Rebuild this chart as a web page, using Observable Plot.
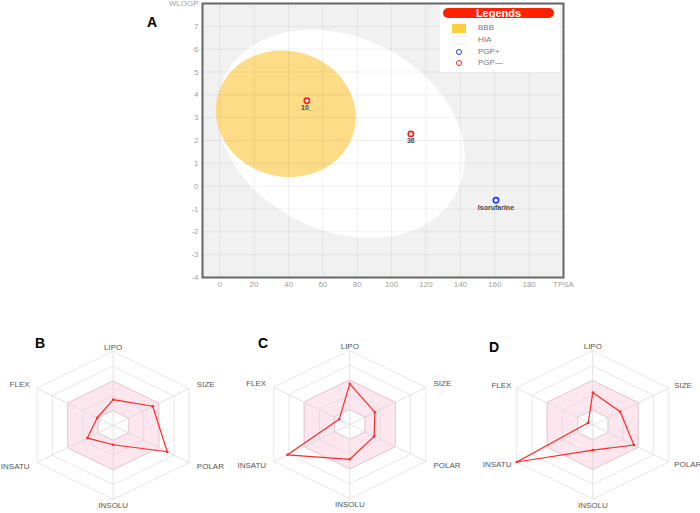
<!DOCTYPE html>
<html><head><meta charset="utf-8">
<script src="https://cdn.jsdelivr.net/npm/d3@7"></script>
<script src="https://cdn.jsdelivr.net/npm/@observablehq/plot@0.6"></script>
<style>
body{margin:0;background:#fff;font-family:"Liberation Sans",Arial,sans-serif;}
#wrap{position:relative;width:700px;height:513px;overflow:hidden;background:#fff;}
.abs{position:absolute;}
.abs svg{overflow:visible;max-width:none !important;}
.letter{position:absolute;font-weight:bold;color:#000;font-size:14px;line-height:14px;}
#legend{position:absolute;left:440px;top:5px;width:120px;height:67px;background:#fff;}
#legend .hd{position:absolute;left:3px;top:3px;width:111px;height:10px;background:#ff2200;border-radius:5px;color:#fff;font-weight:bold;font-size:11px;line-height:10px;text-align:center;}
#legend .lab{position:absolute;left:38px;font-size:8px;color:#777;line-height:8px;}
#legend .sw{position:absolute;left:12px;width:14px;height:9px;}
#legend .ci{position:absolute;left:16px;width:4px;height:4px;border-radius:50%;border:1.6px solid;background:#fff;}
</style></head><body><div id="wrap"></div>
<script>
// ---------- Data: BOILED-Egg (panel A) ----------
const compounds = ["10_", "36", "Isorufarine"];
const tpsa = [50.7, 111.2, 160.7];
const wlogp = [3.74, 2.29, -0.62];
const pgpClass = ["PGP—", "PGP—", "PGP+"];

const eggRegions = ["HIA", "BBB"];
const eggCenterTPSA = [70.5, 38.4];
const eggCenterWLOGP = [2.29, 3.17];
const eggAxisA = [[67.8, -2.50], [39.8, -0.74]];   // semi-axis vectors (TPSA, WLOGP)
const eggAxisB = [[-24.5, -3.81], [-8.73, -2.67]];

const xTicks = [0, 20, 40, 60, 80, 100, 120, 140, 160, 180, 200];
const yTicks = [-4, -3, -2, -1, 0, 1, 2, 3, 4, 5, 6, 7, 8];
const xAxisName = "TPSA";
const yAxisName = "WLOGP";

// ---------- Data: bioavailability radars (panels B, C, D) ----------
const radarAxes = ["LIPO", "SIZE", "POLAR", "INSOLU", "INSATU", "FLEX"];
const radarPanels = ["B", "C", "D"];
const radarB = [0.35, 0.52, 0.71, 0.26, 0.34, 0.21];
const radarC = [0.55, 0.33, 0.32, 0.47, 0.82, 0.14];
const radarD = [0.44, 0.36, 0.54, 0.34, 1.00, 0.06];
const ringLevels = [0.2, 0.4, 0.6, 0.8, 1.0];
const optimalRange = [0.2, 0.6];

// ---------- Panel A ----------
const wrap = document.getElementById("wrap");
const pgpColor = {"PGP+": "#1f3cff", "PGP—": "#ff2020"};
const points = compounds.map((c, i) => ({name: c, tpsa: tpsa[i], wlogp: wlogp[i], pgp: pgpClass[i]}));

const eggPolys = eggRegions.map((r, k) => d3.range(0, 361, 3).map(deg => {
  const t = deg * Math.PI / 180;
  return {
    region: r,
    tpsa: eggCenterTPSA[k] + eggAxisA[k][0] * Math.cos(t) + eggAxisB[k][0] * Math.sin(t),
    wlogp: eggCenterWLOGP[k] + eggAxisA[k][1] * Math.cos(t) + eggAxisB[k][1] * Math.sin(t)
  };
}));

const gridX = xTicks.filter(d => d !== 200);
const gridY = yTicks.filter(d => d !== 8);

const plotA = Plot.plot({
  width: 700, height: 295,
  marginLeft: 202, marginRight: 137, marginTop: 3, marginBottom: 18,
  style: {fontFamily: "'Liberation Sans', Arial, sans-serif", background: "transparent"},
  x: {domain: [-10, 200], axis: null},
  y: {domain: [-4, 8], axis: null},
  marks: [
    Plot.frame({fill: "#f1f1f1", stroke: null}),
    Plot.line(eggPolys[0], {x: "tpsa", y: "wlogp", fill: "#ffffff", stroke: "none", curve: "linear-closed"}),
    Plot.line(eggPolys[1], {x: "tpsa", y: "wlogp", fill: "#fddc87", stroke: "none", curve: "linear-closed"}),
    Plot.ruleX(gridX, {stroke: "#000", strokeOpacity: 0.06}),
    Plot.ruleY(gridY, {stroke: "#000", strokeOpacity: 0.06}),
    Plot.frame({stroke: "#666", strokeWidth: 2}),
    Plot.axisX({ticks: xTicks, tickSize: 0, tickPadding: 4, fontSize: 8, fill: "#a0a0a0", label: null,
      tickFormat: d => d === 200 ? xAxisName : String(d)}),
    Plot.axisY({ticks: yTicks, tickSize: 0, tickPadding: 4, fontSize: 8, fill: "#a0a0a0", label: null,
      tickFormat: d => d === 8 ? yAxisName : String(d)}),
    Plot.dot(points, {x: "tpsa", y: "wlogp", r: 2.6, fill: "#fff", stroke: d => pgpColor[d.pgp], strokeWidth: 1.7}),
    Plot.text(points, {x: "tpsa", y: "wlogp", text: "name", dy: 7, fontSize: 7, fontWeight: "bold", fill: "#444"})
  ]
});
const boxA = document.createElement("div");
boxA.className = "abs"; boxA.style.left = "0px"; boxA.style.top = "0px"; boxA.style.width = "700px";
boxA.appendChild(plotA);
wrap.appendChild(boxA);

// legend
const leg = document.createElement("div");
leg.id = "legend";
leg.innerHTML = `<div class="hd">Legends</div>
<div class="sw" style="top:19px;background:#fdd040;"></div><div class="lab" style="top:19px;">BBB</div>
<div class="sw" style="top:31px;background:#fff;border:1px solid #f2f2f2;box-sizing:border-box;"></div><div class="lab" style="top:31px;">HIA</div>
<div class="ci" style="top:44px;border-color:${pgpColor["PGP+"]};"></div><div class="lab" style="top:43px;">PGP+</div>
<div class="ci" style="top:55px;border-color:${pgpColor["PGP—"]};"></div><div class="lab" style="top:54px;">PGP—</div>`;
wrap.appendChild(leg);

const letterA = document.createElement("div");
letterA.className = "letter"; letterA.textContent = "A";
letterA.style.left = "147px"; letterA.style.top = "15px";
wrap.appendChild(letterA);

// ---------- Panels B, C, D ----------
const angleOf = i => (90 - 60 * i) * Math.PI / 180;
const hexagon = (r, key) => radarAxes.map((a, i) => ({key, x: r * Math.cos(angleOf(i)), y: r * Math.sin(angleOf(i))}));

function radar(values, left, cx, cy, labelR) {
  const series = values.map((v, i) => ({axis: radarAxes[i], x: v * Math.cos(angleOf(i)), y: v * Math.sin(angleOf(i))}));
  const spokes = radarAxes.map((a, i) => ({x: Math.cos(angleOf(i)), y: Math.sin(angleOf(i))}));
  const labels = radarAxes.map((a, i) => {
    const c = Math.cos(angleOf(i)), s = Math.sin(angleOf(i));
    const side = Math.abs(c) > 0.1;
    const r = side ? labelR : 1.0;
    return {axis: a, x: r * c, y: r * s, side: side ? (c > 0 ? "right" : "left") : (s > 0 ? "top" : "bottom")};
  });
  const rings = ringLevels.flatMap(l => hexagon(l, l));
  const font = "'Liberation Sans', Arial, sans-serif";
  const p = Plot.plot({
    width: 240, height: 193, margin: 0,
    style: {fontFamily: font, background: "transparent", overflow: "visible", maxWidth: "none"},
    x: {domain: [-1, 1], range: [cx - 87.8, cx + 87.8], axis: null},
    y: {domain: [-1, 1], range: [cy + 74, cy - 74], axis: null},
    marks: [
      Plot.line(hexagon(optimalRange[1], "o"), {x: "x", y: "y", fill: "#fde6ee", stroke: "#f2bfcf", strokeWidth: 1, curve: "linear-closed"}),
      Plot.line(hexagon(optimalRange[0], "i"), {x: "x", y: "y", fill: "#ffffff", stroke: "#f2bfcf", strokeWidth: 1, curve: "linear-closed"}),
      Plot.line(rings, {x: "x", y: "y", z: "key", stroke: "#d9d9d9", strokeOpacity: 0.8, strokeWidth: 0.8, curve: "linear-closed"}),
      Plot.link(spokes, {x1: 0, y1: 0, x2: "x", y2: "y", stroke: "#d9d9d9", strokeWidth: 0.8}),
      Plot.line(series, {x: "x", y: "y", stroke: "#ff2a2a", strokeWidth: 1.2, curve: "linear-closed"}),
      Plot.dot(series, {x: "x", y: "y", r: 1.3, fill: "#ff2a2a"}),
      Plot.text(labels.filter(d => d.side === "right"), {x: "x", y: "y", text: "axis", textAnchor: "start", fontSize: 8, fill: "#555"}),
      Plot.text(labels.filter(d => d.side === "left"), {x: "x", y: "y", text: "axis", textAnchor: "end", fontSize: 8, fill: "#555"}),
      Plot.text(labels.filter(d => d.side === "top"), {x: "x", y: "y", text: "axis", lineAnchor: "bottom", dy: -2, fontSize: 8, fill: "#555"}),
      Plot.text(labels.filter(d => d.side === "bottom"), {x: "x", y: "y", text: "axis", lineAnchor: "top", dy: 3, fontSize: 8, fill: "#555"})
    ]
  });
  const box = document.createElement("div");
  box.className = "abs"; box.style.left = left + "px"; box.style.top = "320px"; box.style.width = "240px";
  box.appendChild(p);
  wrap.appendChild(box);
}
const radarData = [radarB, radarC, radarD];
const radarLefts = [0, 237, 481];
const radarCx = [112.7, 112.3, 111.3];
const radarCy = [105, 104, 104.5];
const radarLabelR = [1.1, 1.1, 1.07];
const letterPos = [[35, 336], [258, 336], [489, 340]];
radarPanels.forEach((name, k) => {
  radar(radarData[k], radarLefts[k], radarCx[k], radarCy[k], radarLabelR[k]);
  const L = document.createElement("div");
  L.className = "letter"; L.textContent = name;
  L.style.left = letterPos[k][0] + "px"; L.style.top = letterPos[k][1] + "px";
  wrap.appendChild(L);
});
</script></body></html>
